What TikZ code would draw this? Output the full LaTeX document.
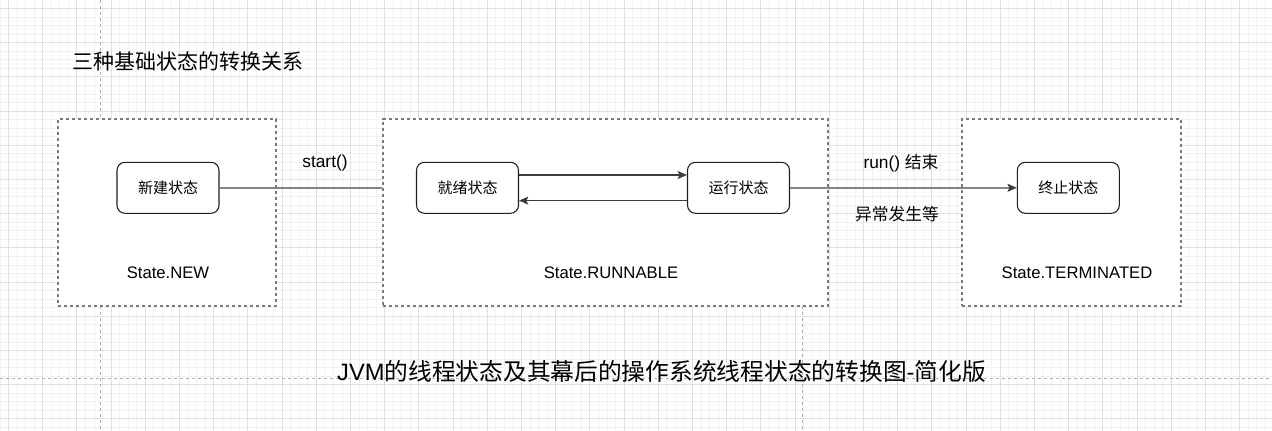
\documentclass[tikz,border=0pt]{standalone}
\usepackage{fontspec}
\setmainfont{Liberation Sans}
\newfontfamily\cjk{Noto Sans CJK SC}
\usetikzlibrary{arrows.meta}

\definecolor{gridminor}{HTML}{F2F2F2}
\definecolor{gridmajor}{HTML}{E0E0E0}
\definecolor{guidegray}{HTML}{B0B0B0}
\definecolor{dashgray}{HTML}{7A7A7A}
\definecolor{edgegray}{HTML}{858585}
\definecolor{arrowdark}{HTML}{3C3C3C}

\tikzset{
  minorline/.style={draw=gridminor, line width=0.75pt},
  majorline/.style={draw=gridmajor, line width=0.75pt},
  guideline/.style={draw=guidegray, line width=0.6pt, dash pattern=on 2.25pt off 2.25pt},
  groupbox/.style={draw=dashgray, line width=1.1pt, dash pattern=on 2.4pt off 2.1pt, fill=white,
    minimum height=140.25pt, inner sep=0pt},
  statenode/.style={draw=black!88, line width=0.8pt, rounded corners=6pt, fill=white,
    minimum width=76.5pt, minimum height=38.25pt, inner sep=0pt,
    font=\cjk\fontsize{11.25}{13}\selectfont},
  grouplabel/.style={inner sep=0pt, font=\fontsize{12.5}{15}\selectfont},
  edgelabel/.style={inner sep=0pt, font=\fontsize{13}{15}\selectfont},
  plainline/.style={draw=edgegray, line width=1.2pt},
  flowarrow/.style={draw=arrowdark, line width=0.9pt, -{Stealth[length=7pt,width=6pt,inset=1.5pt]}},
  endarrow/.style={draw=edgegray, line width=1.2pt, -{Stealth[length=7pt,width=6pt,inset=1.5pt,color=arrowdark]}}
}

\begin{document}
\begin{tikzpicture}[x=0.75pt,y=-0.75pt]
\useasboundingbox (0,0) rectangle (1272,431);
\fill[white] (0,0) rectangle (1272,431);

% background grid
\foreach \gx in {0,8.55,...,1276} \draw[minorline] (\gx,0) -- (\gx,431);
\foreach \gy in {0,8.55,...,436} \draw[minorline] (0,\gy) -- (1272,\gy);
\foreach \gx in {8.55,42.75,...,1276} \draw[majorline] (\gx,0) -- (\gx,431);
\foreach \gy in {8.55,42.75,...,436} \draw[majorline] (0,\gy) -- (1272,\gy);

% guides
\draw[guideline] (100,0) -- (100,431);
\draw[guideline] (802.7,306) -- (802.7,431);
\draw[guideline] (0,378) -- (1272,378);

% groups
\node[groupbox, minimum width=163.5pt] (grpNew) at (167,212.5) {};
\node[groupbox, minimum width=333.75pt] (grpRun) at (605.5,212.5) {};
\node[groupbox, minimum width=164.25pt] (grpTerm) at (1071.5,212.5) {};

\node[grouplabel] (lblNew) at (168,272.5) {State.NEW};
\node[grouplabel] (lblRun) at (611,272.5) {State.RUNNABLE};
\node[grouplabel] (lblTerm) at (1077,273) {State.TERMINATED};

% states
\node[statenode] (new) at (168,187.8) {新建状态};
\node[statenode] (ready) at (467.5,187.8) {就绪状态};
\node[statenode] (running) at (738.5,187.8) {运行状态};
\node[statenode] (dead) at (1068.3,187.8) {终止状态};

% transitions
\draw[plainline] (new.east) -- (new.east -| grpRun.west);
\draw[flowarrow] ([yshift=9.6pt]ready.east) -- ([yshift=9.6pt]ready.east -| running.west);
\draw[flowarrow] ([yshift=-9.6pt]running.west) -- ([yshift=-9.6pt]running.west -| ready.east);
\draw[endarrow] (running.east) -- (dead.west);

\node[edgelabel] (lblStart) at (325,162.7) {start()};
\node[edgelabel] (lblEnd) at (901,163.3) {run() {\cjk\fontsize{12.6}{15}\selectfont 结束}};
\node[edgelabel] (lblErr) at (897,214) {\cjk\fontsize{12.6}{15}\selectfont 异常发生等};

% titles
\node[inner sep=0pt, anchor=west, font=\cjk\fontsize{15.75}{18}\selectfont] (title) at (72,61) {三种基础状态的转换关系};
\node[inner sep=0pt, font=\fontsize{17.8}{21}\selectfont] (caption) at (661.5,371)
  {JVM{\cjk 的线程状态及其幕后的操作系统线程状态的转换图}-{\cjk 简化版}};
\end{tikzpicture}
\end{document}
